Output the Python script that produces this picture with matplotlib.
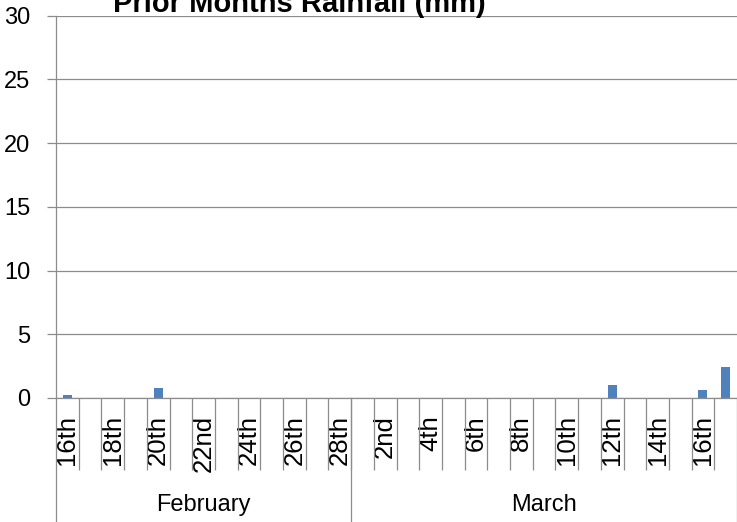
import matplotlib
matplotlib.use("Agg")
import matplotlib.pyplot as plt
import matplotlib.transforms as mtransforms
import numpy as np

plt.rcParams['font.family'] = ['Liberation Sans', 'DejaVu Sans']

# ---- data ----
months = ["February", "March"]
month_days = [
    ["16th", "17th", "18th", "19th", "20th", "21st", "22nd", "23rd", "24th",
     "25th", "26th", "27th", "28th"],
    ["1st", "2nd", "3rd", "4th", "5th", "6th", "7th", "8th", "9th", "10th",
     "11th", "12th", "13th", "14th", "15th", "16th", "17th"],
]
rain_feb = [0.2, 0, 0, 0, 0.8, 0, 0, 0, 0, 0, 0, 0, 0]
rain_mar = [0, 0, 0, 0, 0, 0, 0, 0, 0, 0, 0, 1.0, 0, 0, 0, 0.6, 2.4]
title = "Prior Months Rainfall (mm)"
y_ticks = [0, 5, 10, 15, 20, 25, 30]

days = month_days[0] + month_days[1]
values = rain_feb + rain_mar
n = len(days)
x = np.arange(n)

W, H = 737, 522
fig = plt.figure(figsize=(W / 100, H / 100), dpi=100)
ax_left, ax_right = 56 / W, 1.0
ax_bottom, ax_top = 1 - 398 / H, 1 - 15.5 / H
ax = fig.add_axes([ax_left, ax_bottom, ax_right - ax_left, ax_top - ax_bottom])

grey = '#8c8c8c'
ax.bar(x, values, width=0.4, color='#4F81BD', zorder=3)

ax.set_xlim(-0.5, n - 0.5)
ax.set_ylim(0, 30)
ax.set_yticks(y_ticks)
ax.yaxis.grid(True, color=grey, linewidth=0.9, zorder=0)
ax.set_axisbelow(True)

for s in ['top', 'right', 'bottom']:
    ax.spines[s].set_visible(False)
ax.spines['left'].set_color(grey)
ax.spines['left'].set_linewidth(0.9)
ax.tick_params(axis='y', colors=grey, length=6.5, width=0.9, pad=12,
               labelsize=17, labelcolor='black')

# major ticks: labels every other category
label_idx = x[::2]
ax.set_xticks(label_idx)
ax.set_xticklabels([days[i] for i in label_idx], rotation=90)
ax.tick_params(axis='x', which='major', length=0, pad=12.5, labelsize=18.5,
               labelcolor='black')
# minor ticks: category boundaries
ax.set_xticks(np.arange(0.5, n - 1, 1), minor=True)
ax.tick_params(axis='x', which='minor', length=52, width=0.9, color=grey,
               direction='out')

axis_h = 398 - 15.5
trans = mtransforms.blended_transform_factory(ax.transData, ax.transAxes)
# baseline at zero
ax.plot([-0.5, n - 0.5], [0, 0], transform=trans, color=grey, lw=0.9,
        clip_on=False, zorder=4)
# month divider lines and left axis extension
bottom_ax = -(H - 398) / axis_h
start = -0.5
bounds = [-0.5]
for d in month_days:
    start += len(d)
    bounds.append(start)
for b in bounds:
    ax.plot([b, b], [0, bottom_ax], transform=trans, color=grey, lw=0.9,
            clip_on=False)
# month labels
start = -0.5
for m, d in zip(months, month_days):
    c = start + len(d) / 2
    ax.text(c, -(505 - 398) / axis_h, m, transform=trans, ha='center',
            va='center', fontsize=17)
    start += len(d)

fig.text(299.5 / W, 1 - 12 / H, title, ha='center', va='baseline',
         fontsize=21, fontweight='bold')

fig.savefig('out.png', dpi=100)
